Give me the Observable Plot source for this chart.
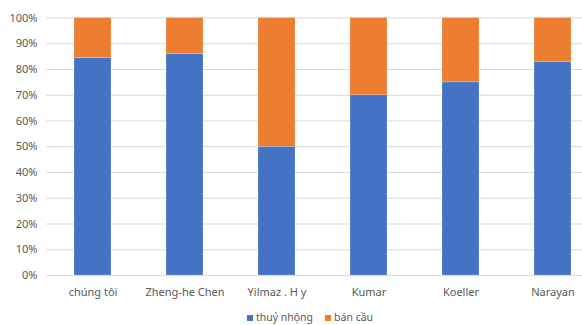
<!DOCTYPE html>
<html>
<head>
<meta charset="utf-8">
<script src="https://cdn.jsdelivr.net/npm/d3@7"></script>
<script src="https://cdn.jsdelivr.net/npm/@observablehq/plot@0.6"></script>
<style>
  html, body { margin: 0; padding: 0; background: #fff; overflow: hidden; }
  #chart { width: 582px; height: 325px; position: relative; font-family: "Noto Sans", sans-serif; }
  #legend { position: absolute; left: 0; top: 310px; width: 582px; height: 14px; line-height: 14px; display: flex; justify-content: center; align-items: center; gap: 12px; font-size: 10.5px; color: #595959; padding-left: 38px; box-sizing: border-box; }
  #legend span.sw { display: inline-block; width: 6px; height: 6px; margin-right: 3px; vertical-align: middle; }
</style>
</head>
<body>
<div id="chart"></div>
<script>
const categories = ["chúng tôi", "Zheng-he Chen", "Yilmaz . H y", "Kumar", "Koeller", "Narayan"];
const seriesNames = ["thuỷ nhộng", "bán cầu"];
const pupa = [84.5, 86, 50, 70, 75, 83];
const hemisphere = [15.5, 14, 50, 30, 25, 17];
const yTicks = [0, 10, 20, 30, 40, 50, 60, 70, 80, 90, 100];
const colors = ["#4472C4", "#ED7D31"];

const rows = [];
categories.forEach((c, i) => {
  rows.push({cat: c, series: seriesNames[0], value: pupa[i]});
  rows.push({cat: c, series: seriesNames[1], value: hemisphere[i]});
});

const chart = Plot.plot({
  width: 582,
  height: 308,
  marginLeft: 46,
  marginRight: 0,
  marginTop: 17.5,
  marginBottom: 33,
  style: {fontFamily: "Noto Sans, sans-serif", fontSize: "11px", color: "#595959", background: "#fff"},
  x: {domain: categories, range: [46, 599], paddingInner: 0.6, paddingOuter: 0.3, label: null},
  y: {domain: [0, 100], range: [275, 17.5], label: null},
  color: {domain: seriesNames, range: colors},
  marks: [
    Plot.ruleY(yTicks, {stroke: "#D9D9D9", strokeWidth: 1}),
    Plot.barY(rows, Plot.stackY({x: "cat", y: "value", fill: "series", order: seriesNames, stroke: "#fff", strokeOpacity: 0.35, strokeWidth: 0.6})),
    Plot.axisY(yTicks, {tickSize: 0, tickPadding: 9, tickFormat: d => d + "%", fill: "#595959", fontSize: 11}),
    Plot.axisX({tickSize: 0, tickPadding: 13, fill: "#595959", fontSize: 11})
  ]
});
document.getElementById("chart").appendChild(chart);

const legend = document.createElement("div");
legend.id = "legend";
seriesNames.forEach((s, i) => {
  const item = document.createElement("span");
  const sw = document.createElement("span");
  sw.className = "sw";
  sw.style.background = colors[i];
  item.appendChild(sw);
  item.appendChild(document.createTextNode(s));
  legend.appendChild(item);
});
document.getElementById("chart").appendChild(legend);
</script>
</body>
</html>
